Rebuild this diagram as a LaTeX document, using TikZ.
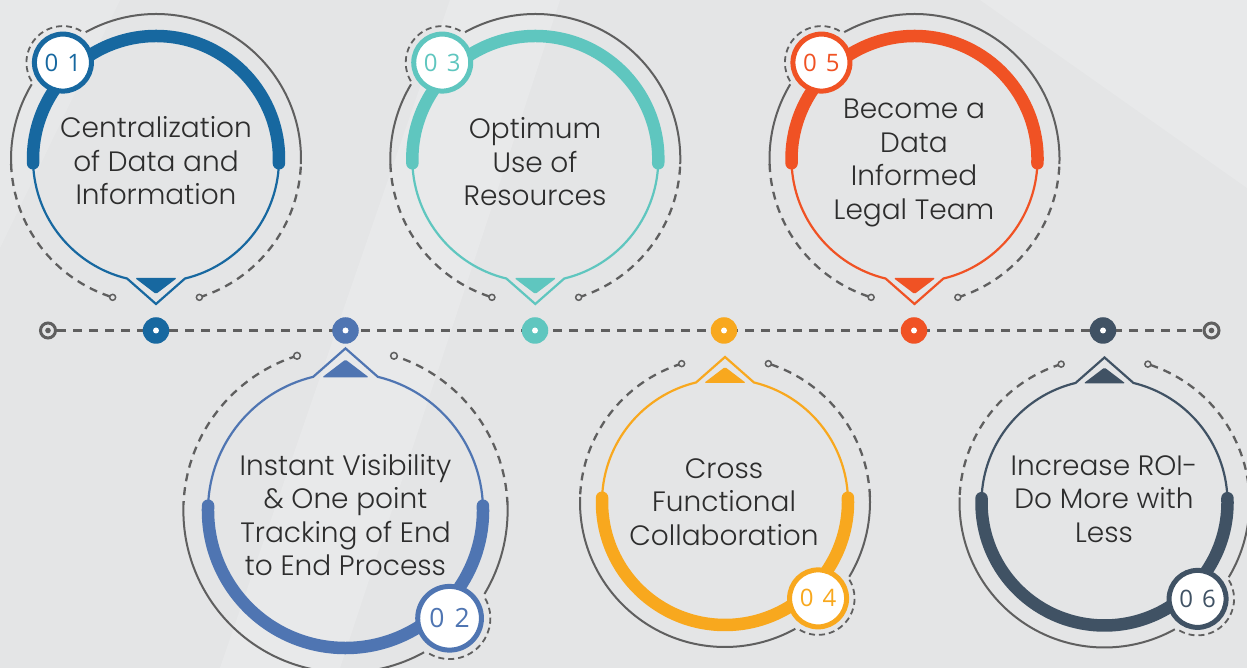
\documentclass[tikz,border=0pt]{standalone}
\usepackage{fontspec}
\setmainfont{Poppins Light}
\newfontfamily\numfont{Open Sans}[LetterSpace=12]
\usetikzlibrary{calc}
\definecolor{cA}{RGB}{23,104,160}
\definecolor{cB}{RGB}{79,117,178}
\definecolor{cC}{RGB}{95,198,191}
\definecolor{cD}{RGB}{248,168,30}
\definecolor{cE}{RGB}{240,82,36}
\definecolor{cF}{RGB}{64,82,100}
\definecolor{lnGray}{RGB}{95,95,95}
\definecolor{bgGray}{RGB}{228,229,230}
\definecolor{txtGray}{RGB}{45,45,45}
\tikzset{
  thickarc/.style={line width=12.5pt, line cap=round},
  thinline/.style={line width=2.2pt},
  outerline/.style={draw=lnGray, line width=2pt},
  outerdash/.style={draw=lnGray, line width=2.3pt, dash pattern=on 8pt off 6pt},
  ringmark/.style={draw=lnGray, line width=1.5pt, fill=bgGray},
  badgedash/.style={draw=lnGray, line width=1.8pt, dash pattern=on 6pt off 4pt},
  label/.style={align=center, text=txtGray, font=\fontsize{28}{33.5}\selectfont, inner sep=0pt},
  numlabel/.style={font=\numfont\fontsize{24}{24}\selectfont, inner sep=0pt},
  tldot/.style={circle, minimum size=26.5pt, inner sep=0pt},
  target/.style={circle, draw=lnGray, line width=3pt, minimum size=15pt, inner sep=0pt},
  tlline/.style={draw=lnGray, line width=3pt, dash pattern=on 8.5pt off 7.5pt}
}
\newcommand\milestone[5]{%
  % #1 name, #2 centre, #3 rotation, #4 scale, #5 colour
  \begin{scope}[shift={#2}, rotate=#3, scale=#4]
    \draw[thickarc, draw=#5] (-2:123) arc[start angle=-2, end angle=182, radius=123];
    \draw[thinline, draw=#5] (182:123) arc[start angle=182, end angle=256.4, radius=123]
      -- (0,-145) -- (283.6:123) arc[start angle=283.6, end angle=358, radius=123];
    \fill[#5, rounded corners=1.5pt] (-21,-119) -- (21,-119) -- (0,-135) -- cycle;
    \draw[outerline] (-2:145) arc[start angle=-2, end angle=119, radius=145];
    \draw[outerline] (149:145) arc[start angle=149, end angle=182, radius=145];
    \draw[outerdash] (182:145) arc[start angle=182, end angle=252.6, radius=145];
    \draw[outerdash] (-72.6:145) arc[start angle=-72.6, end angle=-2, radius=145];
    \draw[ringmark] (252.6:145) circle (3);
    \draw[ringmark] (-72.6:145) circle (3);
    \coordinate (#1-b) at (134:134);
    \draw[badgedash] ($(134:134)+(60:36.5)$) arc[start angle=60, end angle=212, radius=36.5];
    \filldraw[fill=white, draw=#5, line width=5pt] (134:134) circle (28.5);
  \end{scope}}
\begin{document}
\begin{tikzpicture}[x=1pt, y=1pt]
  \useasboundingbox (0,0) rectangle (1247,668);
  \fill[bgGray] (0,0) rectangle (1247,668);
  \fill[white, opacity=0.18] (220,0) -- (340,0) -- (560,668) -- (450,668) -- cycle;
  \fill[white, opacity=0.16] (980,668) -- (1247,668) -- (1247,480) -- cycle;
  \fill[white, opacity=0.14] (0,420) -- (0,668) -- (120,668) -- cycle;

  % timeline
  \node[target] (tl) at (48,337.5) {};
  \node[target] (tr) at (1211.5,337.5) {};
  \fill[lnGray] (tl.center) circle (2.8);
  \fill[lnGray] (tr.center) circle (2.8);
  \draw[tlline] (tl) -- (tr);

  % milestones
  \milestone{m1}{(156,509)}{0}{1}{cA}
  \milestone{m3}{(535.3,509)}{0}{1}{cC}
  \milestone{m5}{(914.5,509)}{0}{1}{cE}
  \milestone{m2}{(345.5,157.5)}{180}{1.118}{cB}
  \milestone{m4}{(725,166)}{180}{1}{cD}
  \milestone{m6}{(1104.5,165.5)}{180}{1}{cF}

  \node[tldot, fill=cA] (d1) at (156,337.5) {};
  \node[tldot, fill=cB] (d2) at (345.5,337.5) {};
  \node[tldot, fill=cC] (d3) at (535,337.5) {};
  \node[tldot, fill=cD] (d4) at (724,337.5) {};
  \node[tldot, fill=cE] (d5) at (914,337.5) {};
  \node[tldot, fill=cF] (d6) at (1103,337.5) {};
  \foreach \d in {d1,d2,d3,d4,d5,d6} \fill[white] (\d.center) circle (3);

  % badge numbers
  \node[numlabel, text=cA] (n1) at (m1-b) {0 1};
  \node[numlabel, text=cC] (n3) at (m3-b) {0 3};
  \node[numlabel, text=cE] (n5) at (m5-b) {0 5};
  \node[numlabel, text=cB, font=\numfont\fontsize{26.5}{26.5}\selectfont] (n2) at (m2-b) {0 2};
  \node[numlabel, text=cD] (n4) at (m4-b) {0 4};
  \node[numlabel, text=cF] (n6) at (m6-b) {0 6};

  % texts
  \node[label] (t1) at (156,507) {Centralization\\of Data and\\Information};
  \node[label] (t3) at (535,506) {Optimum\\Use of\\Resources};
  \node[label] (t5) at (914,505) {Become a\\Data\\Informed\\Legal Team};
  \node[label] (t2) at (345.5,153) {Instant Visibility\\\& One point\\Tracking of End\\to End Process};
  \node[label] (t4) at (724,166) {Cross\\Functional\\Collaboration};
  \node[label] (t6) at (1104,169) {Increase ROI-\\Do More with\\Less};
\end{tikzpicture}
\end{document}
